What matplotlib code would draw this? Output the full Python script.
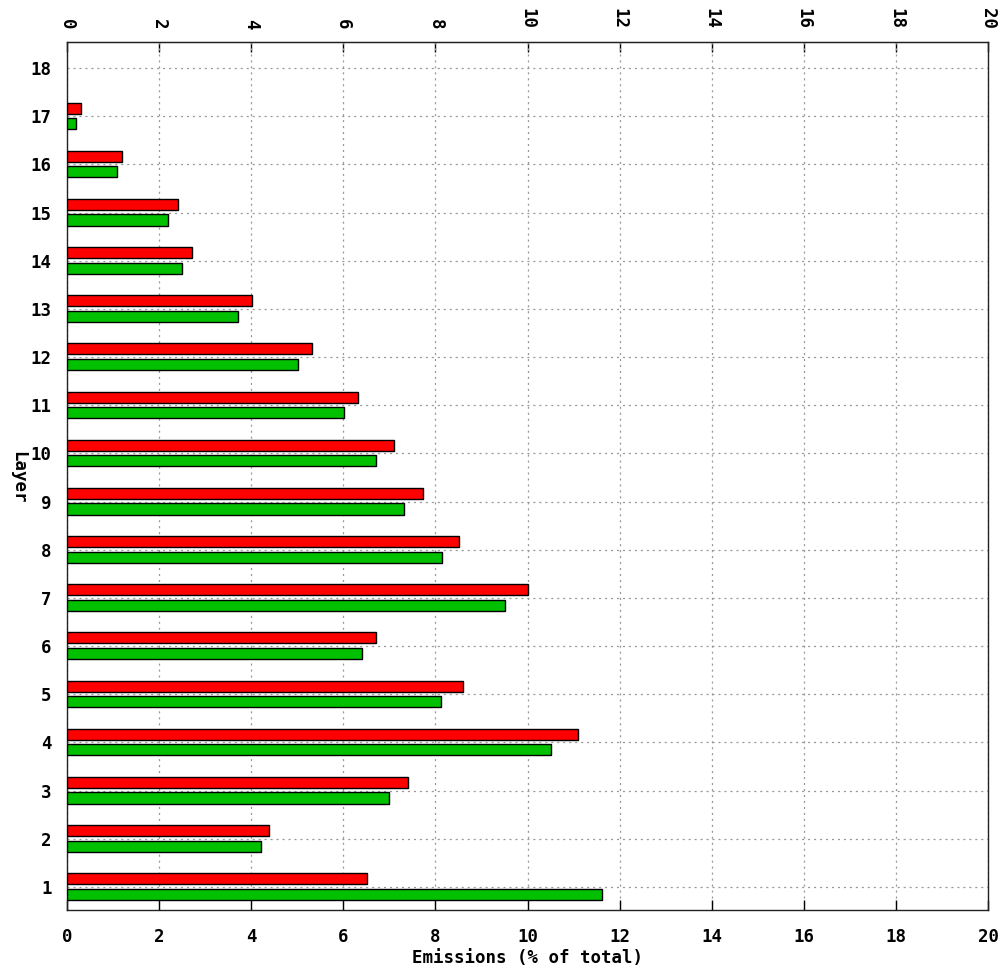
import numpy as np
import matplotlib
matplotlib.use('Agg')
from matplotlib import pyplot as plt

plt.rcParams['font.family'] = 'DejaVu Sans Mono'
plt.rcParams['font.weight'] = 'bold'
plt.rcParams['axes.labelweight'] = 'bold'
plt.rcParams['font.size'] = 12.5
plt.rcParams['lines.scale_dashes'] = False

# emissions per layer (% of total), layers 1..17
layers = np.arange(1, 18)
red_vals = [6.52, 4.39, 7.41, 11.1, 8.6, 6.72, 10.02, 8.52, 7.74,
            7.1, 6.32, 5.33, 4.02, 2.72, 2.4, 1.19, 0.3]
green_vals = [11.62, 4.21, 6.99, 10.52, 8.12, 6.41, 9.52, 8.14, 7.32,
              6.72, 6.01, 5.02, 3.71, 2.5, 2.19, 1.09, 0.2]
x_ticks = np.arange(0, 21, 2)
y_ticks = np.arange(1, 19)

fig = plt.figure(figsize=(10.06, 9.67), dpi=100)
ax = fig.add_axes([67/1006, 1 - 910/967, 921/1006, 868/967])

bar_h = 0.23
ax.barh(layers + 0.168, red_vals, height=bar_h, color='#ff0000',
        edgecolor='black', linewidth=1.0, zorder=3)
ax.barh(layers - 0.155, green_vals, height=bar_h, color='#00c000',
        edgecolor='black', linewidth=1.0, zorder=3)

ax.set_xlim(0, 20)
ax.set_ylim(0.52, 18.54)
ax.set_xticks(x_ticks)
ax.set_yticks(y_ticks)
ax.set_axisbelow(True)
ax.grid(True, color='#999999', linestyle=(0, (1.5, 2.8)), linewidth=0.9)

for s in ax.spines.values():
    s.set_linewidth(1.0)
    s.set_color('#222222')

ax.tick_params(axis='x', direction='in', length=7.5, width=1.0, pad=13)
ax.tick_params(axis='y', length=0, pad=11)

# same scale on top, labels turned sideways
top = ax.secondary_xaxis('top')
top.set_xticks(x_ticks)
top.tick_params(direction='in', length=7.5, width=1.0, pad=9, labelrotation=-90)

ax.set_xlabel('Emissions (% of total)', labelpad=2)
fig.text(18/1006, 1 - 477/967, 'Layer', rotation=270, ha='center', va='center')

fig.savefig('out.png', dpi=100)
